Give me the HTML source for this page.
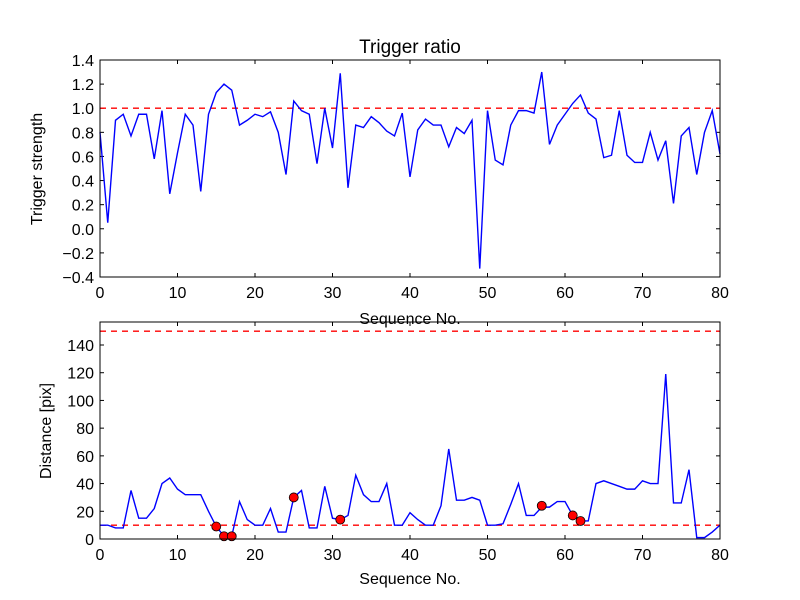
<!DOCTYPE html>
<html><head><meta charset="utf-8"><style>
body{margin:0;background:#fff}
svg{display:block;font-family:"Liberation Sans","DejaVu Sans",sans-serif}
</style></head><body>
<svg id="c" width="800" height="600" viewBox="0 0 800 600"></svg>
<script>
const seqTop = [...Array(81).keys()];
const ratioValues = [0.8,0.05,0.9,0.95,0.77,0.95,0.95,0.58,0.98,0.29,0.63,0.95,0.86,0.31,0.95,1.13,1.2,1.15,0.86,0.9,0.95,0.93,0.97,0.8,0.45,1.06,0.98,0.95,0.54,1.0,0.67,1.29,0.34,0.86,0.84,0.93,0.88,0.81,0.77,0.96,0.43,0.82,0.91,0.86,0.86,0.68,0.84,0.79,0.9,-0.33,0.98,0.57,0.53,0.86,0.98,0.98,0.96,1.3,0.7,0.86,0.95,1.04,1.11,0.96,0.91,0.59,0.61,0.98,0.61,0.55,0.55,0.8,0.57,0.73,0.21,0.77,0.84,0.45,0.8,0.98,0.62];
const distValues = [10,10,8,8,35,15,15,22,40,44,36,32,32,32,20,9,2,2,27,14,10,10,22,5,5,30,35,8,8,38,15,14,17,46,32,27,27,40,10,10,19,14,10,10,24,65,28,28,30,28,10,10,11,25,40,17,17,23,23,27,27,17,13,13,40,42,40,38,36,36,42,40,40,119,26,26,50,1,1,5,10];
const markerX = [15,16,17,25,31,57,61,62];
const markerY = [9,2,2,30,14,24,17,13];
const topYTicks = [-0.4,-0.2,0.0,0.2,0.4,0.6,0.8,1.0,1.2,1.4];
const topYLabels = ["\u22120.4","\u22120.2","0.0","0.2","0.4","0.6","0.8","1.0","1.2","1.4"];
const botYTicks = [0,20,40,60,80,100,120,140];
const xTicks = [0,10,20,30,40,50,60,70,80];

const NS="http://www.w3.org/2000/svg";
const svg=document.getElementById('c');
function mk(tag,attrs,parent){const e=document.createElementNS(NS,tag);for(const k in attrs)e.setAttribute(k,attrs[k]);(parent||svg).appendChild(e);return e;}
const L=100,R=720;
const sx=v=>L+(v-0)/(80-0)*(R-L);

function axes(top,bot,ymin,ymax,yTicks,yLabels,name){
  const sy=v=>bot-(v-ymin)/(ymax-ymin)*(bot-top);
  const g=mk('g',{});
  
  
  xTicks.forEach(t=>{
    const x=sx(t);
    const a=mk('line',{x1:x,x2:x,y1:bot,y2:bot-4,stroke:'#000'},g);
    
    
    mk('line',{x1:x,x2:x,y1:top,y2:top+4,stroke:'#000'},g);
    const tx=mk('text',{x:x,y:bot+21,'text-anchor':'middle','font-size':'16'},g);
    tx.textContent=t;
    
    
  });
  yTicks.forEach((t,i)=>{
    const y=sy(t);
    if(y<top-0.5)return;
    const a=mk('line',{x1:L,x2:L+4,y1:y,y2:y,stroke:'#000'},g);
    
    
    mk('line',{x1:R,x2:R-4,y1:y,y2:y,stroke:'#000'},g);
    const tx=mk('text',{x:L-6,y:y+6,'text-anchor':'end','font-size':'16'},g);
    tx.textContent=yLabels[i];
    
    
  });
  return {sy,g};
}

// top
const T=axes(60,277,-0.4,1.4,topYTicks,topYLabels,'top-axes');
const ref1=mk('line',{x1:L,x2:R,y1:T.sy(1.0),y2:T.sy(1.0),stroke:'#f00','stroke-dasharray':'6,5','stroke-width':1.4});


const p1=mk('polyline',{points:ratioValues.map((v,i)=>sx(seqTop[i])+','+T.sy(v)).join(' '),fill:'none',stroke:'#00f','stroke-width':1.4});


const f1=mk('rect',{x:L,y:60,width:R-L,height:217,fill:'none',stroke:'#000'});


const title=mk('text',{x:410,y:53,'text-anchor':'middle','font-size':'19'});
title.textContent='Trigger ratio';


const xl1=mk('text',{x:410,y:324,'text-anchor':'middle','font-size':'16'});
xl1.textContent='Sequence No.';


const yl1=mk('text',{x:0,y:0,'text-anchor':'middle','font-size':'16',transform:'translate(42,169) rotate(-90)'});
yl1.textContent='Trigger strength';



// bottom
const B=axes(322,539,0,156.6,botYTicks,botYTicks.map(String),'bottom-axes');
[10,150].forEach(v=>{
  const l=mk('line',{x1:L,x2:R,y1:B.sy(v),y2:B.sy(v),stroke:'#f00','stroke-dasharray':'6,5','stroke-width':1.4});
  
  
});
const p2=mk('polyline',{points:distValues.map((v,i)=>sx(i)+','+B.sy(v)).join(' '),fill:'none',stroke:'#00f','stroke-width':1.4});


markerX.forEach((x,i)=>{
  const c=mk('circle',{cx:sx(x),cy:B.sy(markerY[i]),r:4.5,fill:'#f00',stroke:'#000','stroke-width':0.8});
  
  
});
const f2=mk('rect',{x:L,y:322,width:R-L,height:217,fill:'none',stroke:'#000'});


const xl2=mk('text',{x:410,y:584,'text-anchor':'middle','font-size':'16'});
xl2.textContent='Sequence No.';


const yl2=mk('text',{x:0,y:0,'text-anchor':'middle','font-size':'16',transform:'translate(51,431) rotate(-90)'});
yl2.textContent='Distance [pix]';


</script>
</body></html>
